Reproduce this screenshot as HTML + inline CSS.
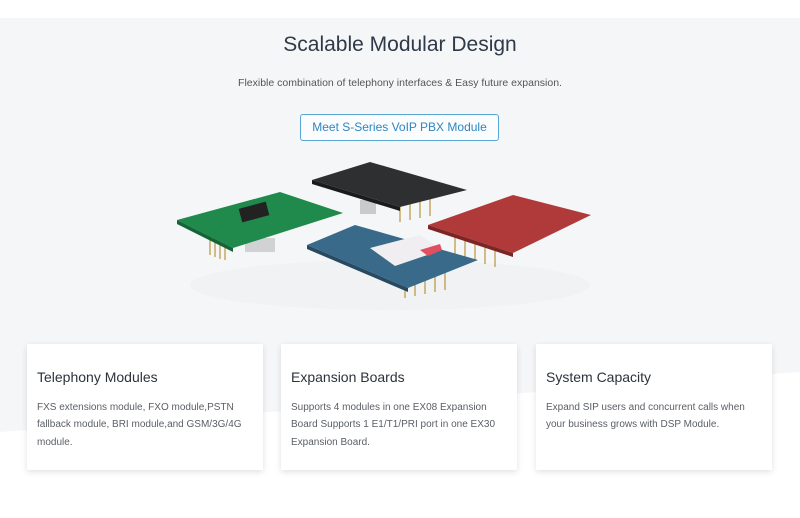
<!DOCTYPE html>
<html><head><meta charset="utf-8"><style>
*{margin:0;padding:0;box-sizing:border-box}
body{width:800px;height:518px;position:relative;background:#fff;font-family:"Liberation Sans",sans-serif;overflow:hidden}
.abs{position:absolute}
h1{position:absolute;top:33px;left:0;width:800px;text-align:center;font-size:21px;font-weight:normal;color:#2f3a48}
.sub{top:77px;left:0;width:800px;text-align:center;font-size:10.5px;color:#555}
.btn{left:300px;top:114px;width:199px;height:27px;border:1px solid #5aa6d2;border-radius:3px;color:#2f86c2;font-size:12px;text-align:center;line-height:25px;background:#fafcfd}
.card{top:344px;width:236px;height:126px;background:#fff;box-shadow:0 2px 6px rgba(0,0,0,0.12)}
.card h3{position:absolute;left:10px;top:25px;font-size:14px;font-weight:normal;color:#2b333d}
.card p{position:absolute;left:10px;top:55px;width:220px;font-size:10px;line-height:17.3px;color:#5a5f66}
</style></head><body>
<svg class="abs" style="left:0;top:0" width="800" height="518">
<path d="M0 18 H800 V372 Q500 395 0 432 Z" fill="#f5f6f8"/>
<ellipse cx="390" cy="285" rx="200" ry="25" fill="#eceded" opacity="0.5"/>
<g stroke="#b8953a" stroke-width="1.2">
<line x1="210" y1="235" x2="210" y2="255"/><line x1="215" y1="237" x2="215" y2="257"/><line x1="220" y1="239" x2="220" y2="259"/><line x1="225" y1="241" x2="225" y2="260"/>
<line x1="400" y1="200" x2="400" y2="222"/><line x1="410" y1="198" x2="410" y2="220"/><line x1="420" y1="196" x2="420" y2="218"/><line x1="430" y1="194" x2="430" y2="216"/>
<line x1="455" y1="235" x2="455" y2="255"/><line x1="465" y1="238" x2="465" y2="258"/><line x1="475" y1="241" x2="475" y2="261"/><line x1="485" y1="244" x2="485" y2="264"/><line x1="495" y1="247" x2="495" y2="267"/>
<line x1="405" y1="280" x2="405" y2="298"/><line x1="415" y1="278" x2="415" y2="296"/><line x1="425" y1="276" x2="425" y2="294"/><line x1="435" y1="274" x2="435" y2="292"/><line x1="445" y1="272" x2="445" y2="290"/>
</g>
<rect x="245" y="238" width="30" height="14" fill="#d0d2d4"/>
<rect x="360" y="200" width="16" height="14" fill="#c8cacc"/>
<polygon points="312,180 370,162 467,190 400,207" fill="#2d2f31"/>
<polygon points="312,180 400,207 400,211 312,184" fill="#1a1b1c"/>
<polygon points="177,220 280,192 343,213 233,248" fill="#1f8a4c"/>
<polygon points="177,220 233,248 233,252 177,224" fill="#146435"/>
<rect x="240" y="205" width="28" height="14" fill="#222" transform="rotate(-15 254 212)"/>
<polygon points="428,225 513,195 591,215 513,253" fill="#b03a3a"/>
<polygon points="428,225 513,253 513,257 428,229" fill="#7d2424"/>
<polygon points="307,245 355,225 478,260 408,288" fill="#3a6a8a"/>
<polygon points="307,245 408,288 408,292 307,249" fill="#274a62"/>
<polygon points="370,248 420,235 442,250 395,266" fill="#f0eef0"/>
<polygon points="420,250 440,244 442,250 428,256" fill="#e05060"/>
</svg>
<h1>Scalable Modular Design</h1>
<div class="abs sub">Flexible combination of telephony interfaces &amp; Easy future expansion.</div>
<div class="abs btn">Meet S-Series VoIP PBX Module</div>
<div class="abs card" style="left:27px"><h3>Telephony Modules</h3><p>FXS extensions module, FXO module,PSTN fallback module, BRI module,and GSM/3G/4G module.</p></div>
<div class="abs card" style="left:281px"><h3>Expansion Boards</h3><p>Supports 4 modules in one EX08 Expansion Board Supports 1 E1/T1/PRI port in one EX30 Expansion Board.</p></div>
<div class="abs card" style="left:536px"><h3>System Capacity</h3><p>Expand SIP users and concurrent calls when your business grows with DSP Module.</p></div>
</body></html>
